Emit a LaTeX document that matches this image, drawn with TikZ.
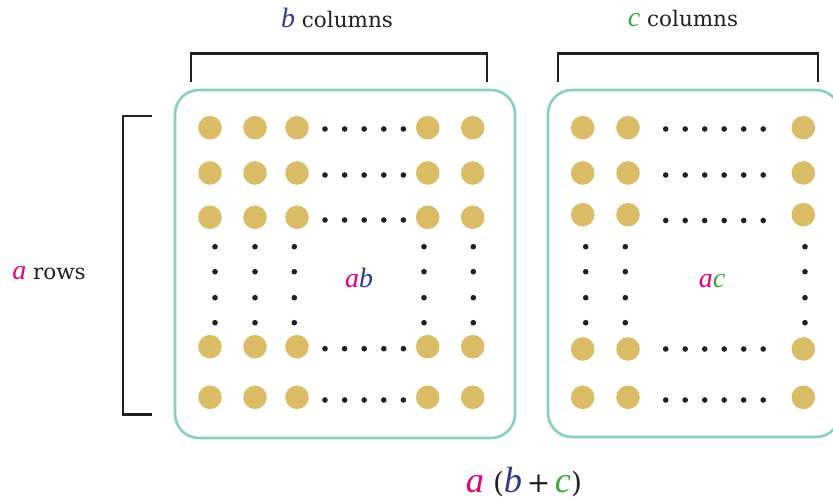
\documentclass[tikz,border=0pt]{standalone}
\usepackage{fontspec}
\setmainfont{DejaVu Serif}
\newfontfamily\varfont{Liberation Serif}[Scale=1.3]
\usepackage{xcolor}
\usepackage{tikz}
\usetikzlibrary{positioning}

\definecolor{aPink}{HTML}{E6007E}
\definecolor{bBlue}{HTML}{2B3990}
\definecolor{cGreen}{HTML}{3AAA35}
\definecolor{dotGold}{HTML}{DBBD68}
\definecolor{panelGreen}{HTML}{88D1B1}
\definecolor{inkBlack}{HTML}{231F20}

\newcommand{\va}{\textcolor{aPink}{\varfont\itshape a}}
\newcommand{\vb}{\textcolor{bBlue}{\varfont\itshape b}}
\newcommand{\vc}{\textcolor{cGreen}{\varfont\itshape c}}

\begin{document}
\begin{tikzpicture}[
    x=1pt, y=-1pt,
    font=\fontsize{21.5}{24}\selectfont,
    panel/.style={draw=panelGreen, line width=2.6pt, rounded corners=24pt},
    bigdot/.style={fill=dotGold},
    smalldot/.style={fill=inkBlack},
    bracket/.style={draw=inkBlack, line width=2.2pt},
    label/.style={inner sep=0pt, text=inkBlack}
]
\useasboundingbox (0,0) rectangle (833,500);

% the two arrays
\draw[panel] (175,90) rectangle (515,438);
\draw[panel] (548,90) rectangle (840,437);

% left array: b columns
\foreach \y in {127.7,173,217.3,346.7,397.3}
  \foreach \x in {210,255,297,427.7,472.7}
    \fill[bigdot] (\x,\y) circle (11.8);
\foreach \y in {129,175,220,348.7,400}
  \foreach \k in {0,...,4}
    \fill[smalldot] (325+19.6*\k,\y) circle (2.8);
\foreach \x in {215,255,294.3,424,473.3}
  \foreach \y in {246.7,271.7,297.7,322.7}
    \fill[smalldot] (\x,\y) circle (2.8);

% right array: c columns
\foreach \y in {127.7,173,214.7,349,397.3}
  \foreach \x in {582.7,628,803.3}
    \fill[bigdot] (\x,\y) circle (11.8);
\foreach \y in {129,175,220.5,349,400}
  \foreach \k in {0,...,5}
    \fill[smalldot] (665.7+19.5*\k,\y) circle (2.8);
\foreach \x in {585.7,625.3,805}
  \foreach \y in {246.7,271.7,297.7,322.7}
    \fill[smalldot] (\x,\y) circle (2.8);

% brackets
\draw[bracket] (191,82) -- (191,53.5) -- (487.3,53.5) -- (487.3,82);
\draw[bracket] (558.3,82) -- (558.3,53.5) -- (818.3,53.5) -- (818.3,82);
\draw[bracket] (151.7,116) -- (123.3,116) -- (123.3,414.5) -- (151.7,414.5);

% labels
\node[label] (bcols) at (337,18) {\vb{} columns};
\node[label] (ccols) at (683,18) {\vc{} columns};
\node[label] (arows) at (49,273) {\va{} rows};
\node[label] (ab) at (359,278) {\va\vb};
\node[label] (ac) at (712,281) {\va\vc};
\node[label, font=\fontsize{28}{34}\selectfont] (total) at (524,482) {\va{} (\vb\,+\,\vc)};
\end{tikzpicture}
\end{document}
